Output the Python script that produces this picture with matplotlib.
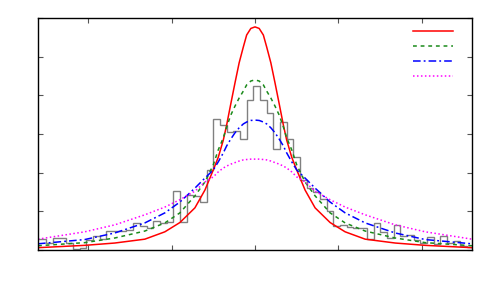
"""
Histogram of a sample with four peaked model curves on top (gnuplot-like look).
Writes out.png at 500x300.
"""

import matplotlib
matplotlib.use("Agg")
import matplotlib.pyplot as plt
import numpy as np

# ---------------------------------------------------------------------------
# Data
# ---------------------------------------------------------------------------

# histogram: 66 bins of width 0.08, first edge at -2.66
hist_edges = np.round(np.arange(-2.66, 2.63, 0.08), 3)
hist_heights = [
    0.28, 0.28, 0.17, 0.30, 0.30, 0.18, 0.03, 0.06, 0.25, 0.35,
    0.28, 0.49, 0.49, 0.49, 0.52, 0.69, 0.62, 0.58, 0.76, 0.70,
    0.72, 1.53, 0.72, 1.42, 1.40, 1.25, 2.08, 3.38, 3.23, 3.04,
    3.08, 2.86, 3.89, 4.24, 3.89, 3.54, 2.60, 3.30, 2.86, 2.40,
    1.82, 1.60, 1.50, 1.31, 1.01, 0.62, 0.65, 0.60, 0.56, 0.56,
    0.28, 0.69, 0.47, 0.30, 0.65, 0.36, 0.38, 0.26, 0.17, 0.34,
    0.16, 0.36, 0.17, 0.23, 0.10, 0.09,
]

# the curves are symmetric about 0: values read at these distances from the centre
curve_offsets = [0.0, 0.05, 0.10, 0.14, 0.19, 0.24, 0.29, 0.34, 0.38, 0.44,
                 0.50, 0.60, 0.72, 0.90, 1.08, 1.32, 1.68, 2.04, 2.60]
red_half = [5.77, 5.73, 5.56, 5.25, 4.84, 4.32, 3.78, 3.23, 2.84, 2.40,
            2.07, 1.55, 1.09, 0.71, 0.47, 0.28, 0.18, 0.12, 0.06]
green_half = [4.40, 4.37, 4.27, 4.11, 3.93, 3.72, 3.49, 3.18, 2.90, 2.59,
              2.20, 1.76, 1.40, 0.96, 0.70, 0.49, 0.31, 0.19, 0.11]
blue_half = [3.36, 3.35, 3.31, 3.26, 3.16, 3.03, 2.87, 2.69, 2.51, 2.28,
             2.07, 1.86, 1.60, 1.24, 0.96, 0.70, 0.44, 0.27, 0.16]
magenta_half = [2.35, 2.35, 2.34, 2.33, 2.30, 2.26, 2.22, 2.17, 2.12, 2.02,
                1.89, 1.76, 1.52, 1.30, 1.11, 0.91, 0.65, 0.47, 0.28]

x_ticks = [-2, -1, 0, 1, 2]
y_ticks = [0, 1, 2, 3, 4, 5, 6]


def mirrored(offsets, half):
    """Join the left (mirrored) and right halves of a symmetric curve."""
    xs = [-o for o in offsets[:0:-1]] + list(offsets)
    ys = list(half[:0:-1]) + list(half)
    return xs, ys


# ---------------------------------------------------------------------------
# Plot
# ---------------------------------------------------------------------------

fig = plt.figure(figsize=(5, 3), dpi=100)
ax = fig.add_axes([0.076, 0.1667, 0.868, 0.7733])

ax.stairs(hist_heights, hist_edges, baseline=None, color="#808080", linewidth=1.0)

styles = [
    (red_half, dict(color="#ff0000")),
    (green_half, dict(color="#1a8a1a", dashes=(2.5, 2.5))),
    (blue_half, dict(color="#0000ff", dashes=(5, 2, 1.2, 2))),
    (magenta_half, dict(color="#ff00ff", dashes=(1, 1.6))),
]
handles = []
for half, kw in styles:
    xs, ys = mirrored(curve_offsets, half)
    line, = ax.plot(xs, ys, linewidth=1.1, **kw)
    handles.append(line)

ax.set_xlim(-2.6, 2.6)
ax.set_ylim(0, 6)
ax.set_xticks(x_ticks)
ax.set_yticks(y_ticks)
ax.set_xticklabels([])
ax.set_yticklabels([])
ax.tick_params(direction="in", length=3.5, width=0.8, color="#555555",
               top=True, right=True)
for s in ax.spines.values():
    s.set_linewidth(1.0)

# legend keys only, no text
ax.legend(handles, ["", "", "", ""], loc="upper right", frameon=False,
          fontsize=8, handlelength=3.6, handletextpad=0.0, labelspacing=0.46,
          borderpad=0.0, borderaxespad=0.0, bbox_to_anchor=(0.956, 0.963))

fig.savefig("out.png", dpi=100)
plt.close(fig)
